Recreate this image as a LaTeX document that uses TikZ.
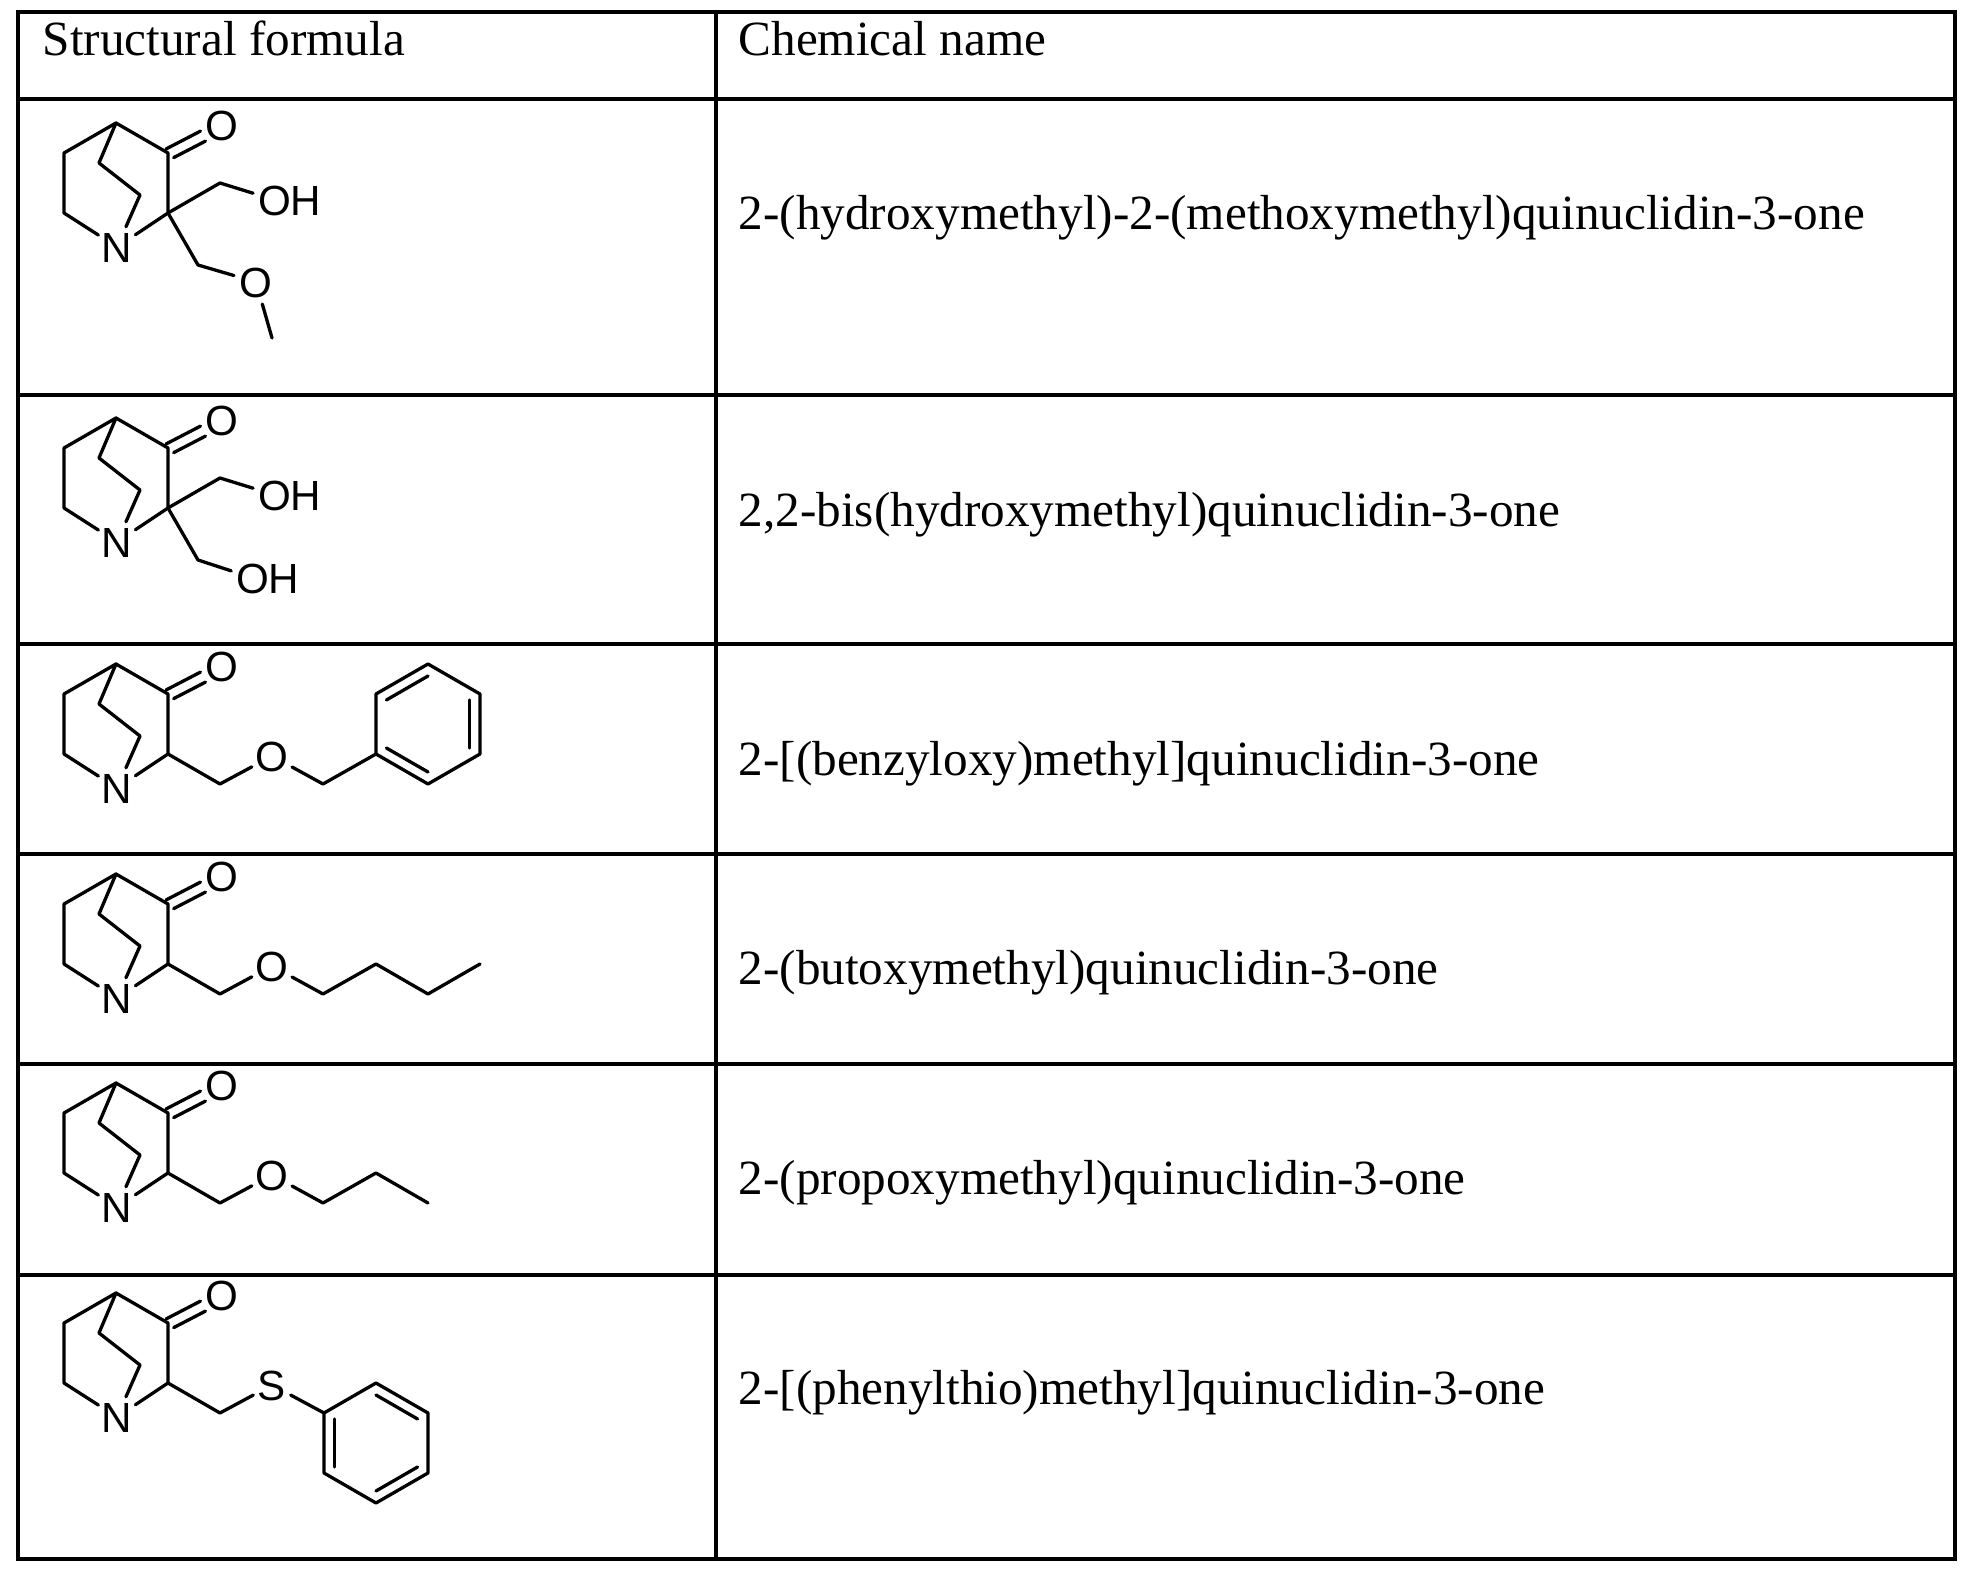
\documentclass[tikz,border=0pt]{standalone}
\usepackage{fontspec}
\setmainfont{Liberation Serif}
\newfontfamily\atomfont{Liberation Sans}
\usetikzlibrary{calc}
\newdimen\px \px=0.2845pt
\tikzset{
  bond/.style={line width=3.3\px, line cap=round, line join=round},
  atom/.style={circle, inner sep=0pt, minimum size=36\px, font=\atomfont\fontsize{12pt}{13pt}\selectfont, text height=8.6pt, text depth=0pt},
  atomh/.style={inner sep=0pt, font=\atomfont\fontsize{12pt}{13pt}\selectfont, text height=8.6pt, text depth=0pt},
  gridline/.style={line width=4\px},
  chemname/.style={anchor=base west, inner sep=0pt, font=\fontsize{14pt}{16pt}\selectfont},
  core/.pic={
    \coordinate (-c4) at (0,0);
    \coordinate (-c3) at (52,30);
    \coordinate (-c2) at (52,90);
    \coordinate (-l1) at (-52,30);
    \coordinate (-l2) at (-52,90);
    \coordinate (-b1) at (-17,40);
    \coordinate (-b2) at (24,72);
    \node[atom] (-n) at (1,124) {N};
    \node[atom] (-o) at (106,2) {O};
    \draw[bond] (-c4) -- (-l1) -- (-l2) -- (-n);
    \draw[bond] (-c4) -- (-b1) -- (-b2) -- (-n);
    \draw[bond] (-c4) -- (-c3) -- (-c2) -- (-n);
    \draw[bond, shorten >=22\px] ($(-c3)+(-2,-4)$) -- ($(-o)+(-2,-4)$);
    \draw[bond, shorten >=22\px, shorten <=3\px] ($(-c3)+(3,6)$) -- ($(-o)+(3,6)$);
  }
}
\begin{document}
\begin{tikzpicture}[x=\px, y=-\px]
\useasboundingbox (0,0) rectangle (1983,1577);
% table
\draw[gridline] (18,12) rectangle (1955,1559);
\draw[gridline] (716,12) -- (716,1559);
\foreach \yy in {99,395,644,854,1064,1275} \draw[gridline] (18,\yy) -- (1955,\yy);
\node[chemname] (h1) at (42,56) {Structural formula};
\node[chemname] (h2) at (738,56) {Chemical name};
\node[chemname] (n1) at (738,230) {2-(hydroxymethyl)-2-(methoxymethyl)quinuclidin-3-one};
\node[chemname] (n2) at (738,527) {2,2-bis(hydroxymethyl)quinuclidin-3-one};
\node[chemname] (n3) at (738,775) {2-[(benzyloxy)methyl]quinuclidin-3-one};
\node[chemname] (n4) at (738,984) {2-(butoxymethyl)quinuclidin-3-one};
\node[chemname] (n5) at (738,1194) {2-(propoxymethyl)quinuclidin-3-one};
\node[chemname] (n6) at (738,1404) {2-[(phenylthio)methyl]quinuclidin-3-one};
% row 1
\begin{scope}[shift={(116,123)}]
  \pic (r1) {core};
  \coordinate (a1) at (104,60);
  \node[atom] (oh1) at (159,77) {O};
  \node[atomh] (h1a) at (190,77) {H};
  \draw[bond] (r1-c2) -- (a1) -- (oh1);
  \coordinate (a2) at (82,142);
  \node[atom] (om1) at (140,159) {O};
  \coordinate (me1) at (156,215);
  \draw[bond] (r1-c2) -- (a2) -- (om1) -- (me1);
\end{scope}
% row 2
\begin{scope}[shift={(116,418)}]
  \pic (r2) {core};
  \coordinate (b1) at (104,60);
  \node[atom] (oh2) at (159,77) {O};
  \node[atomh] (h2a) at (190,77) {H};
  \draw[bond] (r2-c2) -- (b1) -- (oh2);
  \coordinate (b2) at (82,142);
  \node[atom] (oh3) at (137,160) {O};
  \node[atomh] (h2b) at (168,160) {H};
  \draw[bond] (r2-c2) -- (b2) -- (oh3);
\end{scope}
% row 3
\begin{scope}[shift={(116,664)}]
  \pic (r3) {core};
  \coordinate (c1) at (104,120);
  \node[atom] (o3) at (156,92) {O};
  \coordinate (c2) at (207,120);
  \coordinate (p1) at (260,90);
  \coordinate (p2) at (260,30);
  \coordinate (p3) at (312,0);
  \coordinate (p4) at (364,30);
  \coordinate (p5) at (364,90);
  \coordinate (p6) at (312,120);
  \coordinate (pc) at (312,60);
  \draw[bond] (r3-c2) -- (c1) -- (o3) -- (c2) -- (p1);
  \draw[bond] (p1) -- (p2) -- (p3) -- (p4) -- (p5) -- (p6) -- cycle;
  \draw[bond] ($(pc)!0.8!(p2)$) -- ($(pc)!0.8!(p3)$);
  \draw[bond] ($(pc)!0.8!(p4)$) -- ($(pc)!0.8!(p5)$);
  \draw[bond] ($(pc)!0.8!(p6)$) -- ($(pc)!0.8!(p1)$);
\end{scope}
% row 4
\begin{scope}[shift={(116,874)}]
  \pic (r4) {core};
  \coordinate (d1) at (104,120);
  \node[atom] (o4) at (156,92) {O};
  \coordinate (d2) at (207,120);
  \coordinate (d3) at (260,90);
  \coordinate (d4) at (312,120);
  \coordinate (d5) at (364,90);
  \draw[bond] (r4-c2) -- (d1) -- (o4) -- (d2) -- (d3) -- (d4) -- (d5);
\end{scope}
% row 5
\begin{scope}[shift={(116,1083)}]
  \pic (r5) {core};
  \coordinate (e1) at (104,120);
  \node[atom] (o5) at (156,92) {O};
  \coordinate (e2) at (207,120);
  \coordinate (e3) at (260,90);
  \coordinate (e4) at (312,120);
  \draw[bond] (r5-c2) -- (e1) -- (o5) -- (e2) -- (e3) -- (e4);
\end{scope}
% row 6
\begin{scope}[shift={(116,1293)}]
  \pic (r6) {core};
  \coordinate (f1) at (104,120);
  \node[atom] (s6) at (156,92) {S};
  \coordinate (q1) at (208,120);
  \coordinate (q2) at (260,90);
  \coordinate (q3) at (312,120);
  \coordinate (q4) at (312,180);
  \coordinate (q5) at (260,210);
  \coordinate (q6) at (208,180);
  \coordinate (qc) at (260,150);
  \draw[bond] (r6-c2) -- (f1) -- (s6) -- (q1);
  \draw[bond] (q1) -- (q2) -- (q3) -- (q4) -- (q5) -- (q6) -- cycle;
  \draw[bond] ($(qc)!0.8!(q1)$) -- ($(qc)!0.8!(q6)$);
  \draw[bond] ($(qc)!0.8!(q2)$) -- ($(qc)!0.8!(q3)$);
  \draw[bond] ($(qc)!0.8!(q4)$) -- ($(qc)!0.8!(q5)$);
\end{scope}
\end{tikzpicture}
\end{document}
